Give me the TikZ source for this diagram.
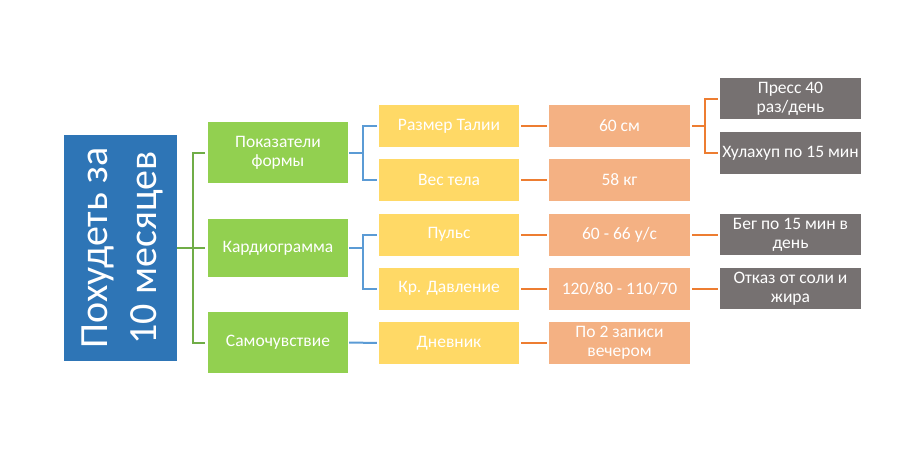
\documentclass[tikz,border=0pt]{standalone}
\usepackage{fontspec}
\setmainfont{Carlito}
\definecolor{rootblue}{HTML}{2E75B6}
\definecolor{boxgreen}{HTML}{92D050}
\definecolor{boxyellow}{HTML}{FFD966}
\definecolor{boxorange}{HTML}{F4B183}
\definecolor{boxgrey}{HTML}{767171}
\definecolor{lgreen}{HTML}{70AD47}
\definecolor{lblue}{HTML}{5B9BD5}
\definecolor{lorange}{HTML}{ED7D31}
\tikzset{
  base/.style={draw=none, text=white, inner sep=0pt, align=center,
    font=\fontsize{17.5}{19}\selectfont},
  rootbox/.style={fill=rootblue, draw=none, minimum width=113pt, minimum height=226pt, inner sep=0pt},
  roottext/.style={text=white, align=center, inner sep=0pt, font=\fontsize{40}{49}\selectfont},
  greenbox/.style={base, fill=boxgreen, minimum width=140pt},
  yellowbox/.style={base, fill=boxyellow, minimum width=140pt, minimum height=42pt},
  orangebox/.style={base, fill=boxorange, minimum width=141pt, minimum height=42pt},
  greybox/.style={base, fill=boxgrey, minimum width=141pt, minimum height=41.5pt},
  gline/.style={draw=lgreen, line width=2pt},
  bline/.style={draw=lblue, line width=2pt},
  oline/.style={draw=lorange, line width=2pt},
}
\begin{document}
\begin{tikzpicture}[x=1pt, y=-1pt]
\useasboundingbox (0,0) rectangle (920,460);
% root
\node[rootbox] (root) at (120.5,248) {};
\node[roottext, rotate=90] (roottxt) at (122,248) {Похудеть за\\10 месяцев};
% green
\node[greenbox, minimum height=61pt] (g1) at (278,152.5) {Показатели\\формы};
\node[greenbox, minimum height=58pt] (g2) at (278,248) {Кардиограмма};
\node[greenbox, minimum height=61pt] (g3) at (278,342.5) {Самочувствие};
% yellow
\node[yellowbox] (y1) at (449,126) {Размер Талии};
\node[yellowbox] (y2) at (449,180) {Вес тела};
\node[yellowbox] (y3) at (449,234.5) {Пульс};
\node[yellowbox] (y4) at (449,288.5) {Кр. Давление};
\node[yellowbox] (y5) at (449,343) {Дневник};
% orange
\node[orangebox] (o1) at (619.5,126) {60 см};
\node[orangebox] (o2) at (619.5,180) {58 кг};
\node[orangebox] (o3) at (619.5,234.5) {60 - 66 у/с};
\node[orangebox] (o4) at (619.5,288.5) {120/80 - 110/70};
\node[orangebox] (o5) at (619.5,343) {По 2 записи\\вечером};
% grey
\node[greybox] (r1) at (790.5,98.5) {Пресс 40\\раз/день};
\node[greybox] (r2) at (790.5,153) {Хулахуп по 15 мин};
\node[greybox] (r3) at (790.5,234.5) {Бег по 15 мин в\\день};
\node[greybox] (r4) at (790.5,288.5) {Отказ от соли и\\жира};
% green connectors
\draw[gline, shorten >=3pt] (root.east) -- (g2.west);
\draw[gline, shorten >=3pt] (root.east) -- ++(16,0) |- (g1.west);
\draw[gline, shorten >=3pt] (root.east) -- ++(16,0) |- (g3.west);
% blue connectors
\draw[bline, shorten >=2pt, shorten <=1pt] (g1.east) -- ++(15,0) |- (y1.west);
\draw[bline, shorten >=2pt, shorten <=1pt] (g1.east) -- ++(15,0) |- (y2.west);
\draw[bline, shorten >=2pt, shorten <=1pt] (g2.east) -- ++(15,0) |- (y3.west);
\draw[bline, shorten >=2pt, shorten <=1pt] (g2.east) -- ++(15,0) |- (y4.west);
\draw[bline, shorten >=2pt, shorten <=1pt] (g3.east) -- (y5.west);
% orange connectors
\draw[oline, shorten >=2pt, shorten <=2pt] (y1.east) -- (o1.west);
\draw[oline, shorten >=2pt, shorten <=2pt] (y2.east) -- (o2.west);
\draw[oline, shorten >=2pt, shorten <=2pt] (y3.east) -- (o3.west);
\draw[oline, shorten >=2pt, shorten <=2pt] (y4.east) -- (o4.west);
\draw[oline, shorten >=2pt, shorten <=2pt] (y5.east) -- (o5.west);
\draw[oline, shorten >=2pt, shorten <=2pt] (o1.east) -- ++(15,0) |- (r1.west);
\draw[oline, shorten >=2pt, shorten <=2pt] (o1.east) -- ++(15,0) |- (r2.west);
\draw[oline, shorten >=2pt, shorten <=2pt] (o3.east) -- (r3.west);
\draw[oline, shorten >=2pt, shorten <=2pt] (o4.east) -- (r4.west);
\end{tikzpicture}
\end{document}
